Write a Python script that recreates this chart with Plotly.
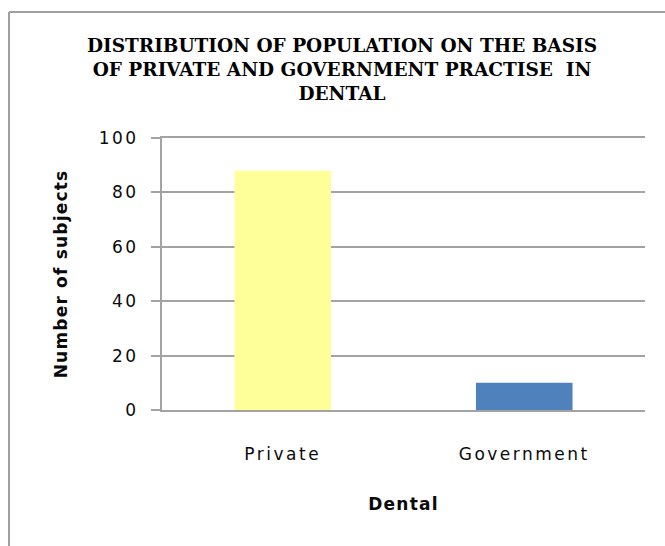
import plotly.graph_objects as go

# Practice type counts
categories = ["Private", "Government"]
subjects = [88, 10]
bar_colors = ["#FFFF99", "#4F81BD"]
y_ticks = [0, 20, 40, 60, 80, 100]

W, H = 665, 546
L, R, T, B = 162, 20, 138, 136
plot_w = W - L - R
plot_h = H - T - B

grid_color = "#a3a3a3"
frame_color = "#9f9f9f"
text_color = "#0a0a0a"

fig = go.Figure(
    go.Bar(
        x=categories,
        y=subjects,
        marker=dict(color=bar_colors, line=dict(width=0)),
        showlegend=False,
    )
)

# chart frame: left and top edges (the rest runs off the canvas)
frame_left = (9 - L) / plot_w
frame_top = 1 + (T - 12) / plot_h

fig.update_layout(
    width=W,
    height=H,
    margin=dict(l=L, r=R, t=T, b=B, pad=0),
    paper_bgcolor="white",
    plot_bgcolor="white",
    bargap=0.6,
    title=dict(
        text="DISTRIBUTION OF POPULATION ON THE BASIS<br>"
             "OF PRIVATE AND GOVERNMENT PRACTISE  IN<br>DENTAL",
        font=dict(family="DejaVu Serif", size=18.5, color="#000000", weight="bold"),
        x=342 / W,
        xref="container",
        xanchor="center",
        y=1 - 52 / H,
        yref="container",
        yanchor="top",
    ),
    xaxis=dict(
        showgrid=False,
        showline=True,
        mirror=True,
        linecolor=grid_color,
        linewidth=2,
        ticks="",
        ticklabelstandoff=28,
        tickfont=dict(family="DejaVu Sans", size=17, color=text_color),
        title=dict(
            text="Dental",
            font=dict(family="DejaVu Sans", size=17, color=text_color, weight="bold"),
            standoff=35,
        ),
    ),
    yaxis=dict(
        range=[0, 100],
        tickvals=y_ticks,
        showgrid=True,
        gridcolor=grid_color,
        gridwidth=2,
        zeroline=False,
        showline=True,
        linecolor=grid_color,
        linewidth=2,
        ticks="outside",
        ticklen=9,
        tickwidth=2,
        tickcolor=grid_color,
        ticklabelstandoff=9,
        tickfont=dict(family="DejaVu Sans", size=17, color=text_color),
        title=dict(
            text="Number of subjects",
            font=dict(family="DejaVu Sans", size=17, color=text_color, weight="bold"),
            standoff=34,
        ),
    ),
    shapes=[
        dict(type="line", xref="paper", yref="paper",
             x0=frame_left, x1=1.2, y0=frame_top, y1=frame_top,
             line=dict(color=frame_color, width=2)),
        dict(type="line", xref="paper", yref="paper",
             x0=frame_left, x1=frame_left, y0=frame_top, y1=-0.7,
             line=dict(color=frame_color, width=2)),
    ],
)

# Widen the letter spacing of the axis texts
spacing_js = """
var gd = document.getElementsByClassName('plotly-graph-div')[0];
function spaceOut() {
  gd.querySelectorAll('.xtick text, .ytick text').forEach(function (t) {
    t.style.letterSpacing = '2.5px';
  });
  gd.querySelectorAll('.xtitle, .ytitle').forEach(function (t) {
    t.style.letterSpacing = '1.2px';
  });
}
spaceOut();
gd.on('plotly_afterplot', spaceOut);
"""

fig.write_html("out.html", post_script=spacing_js)
